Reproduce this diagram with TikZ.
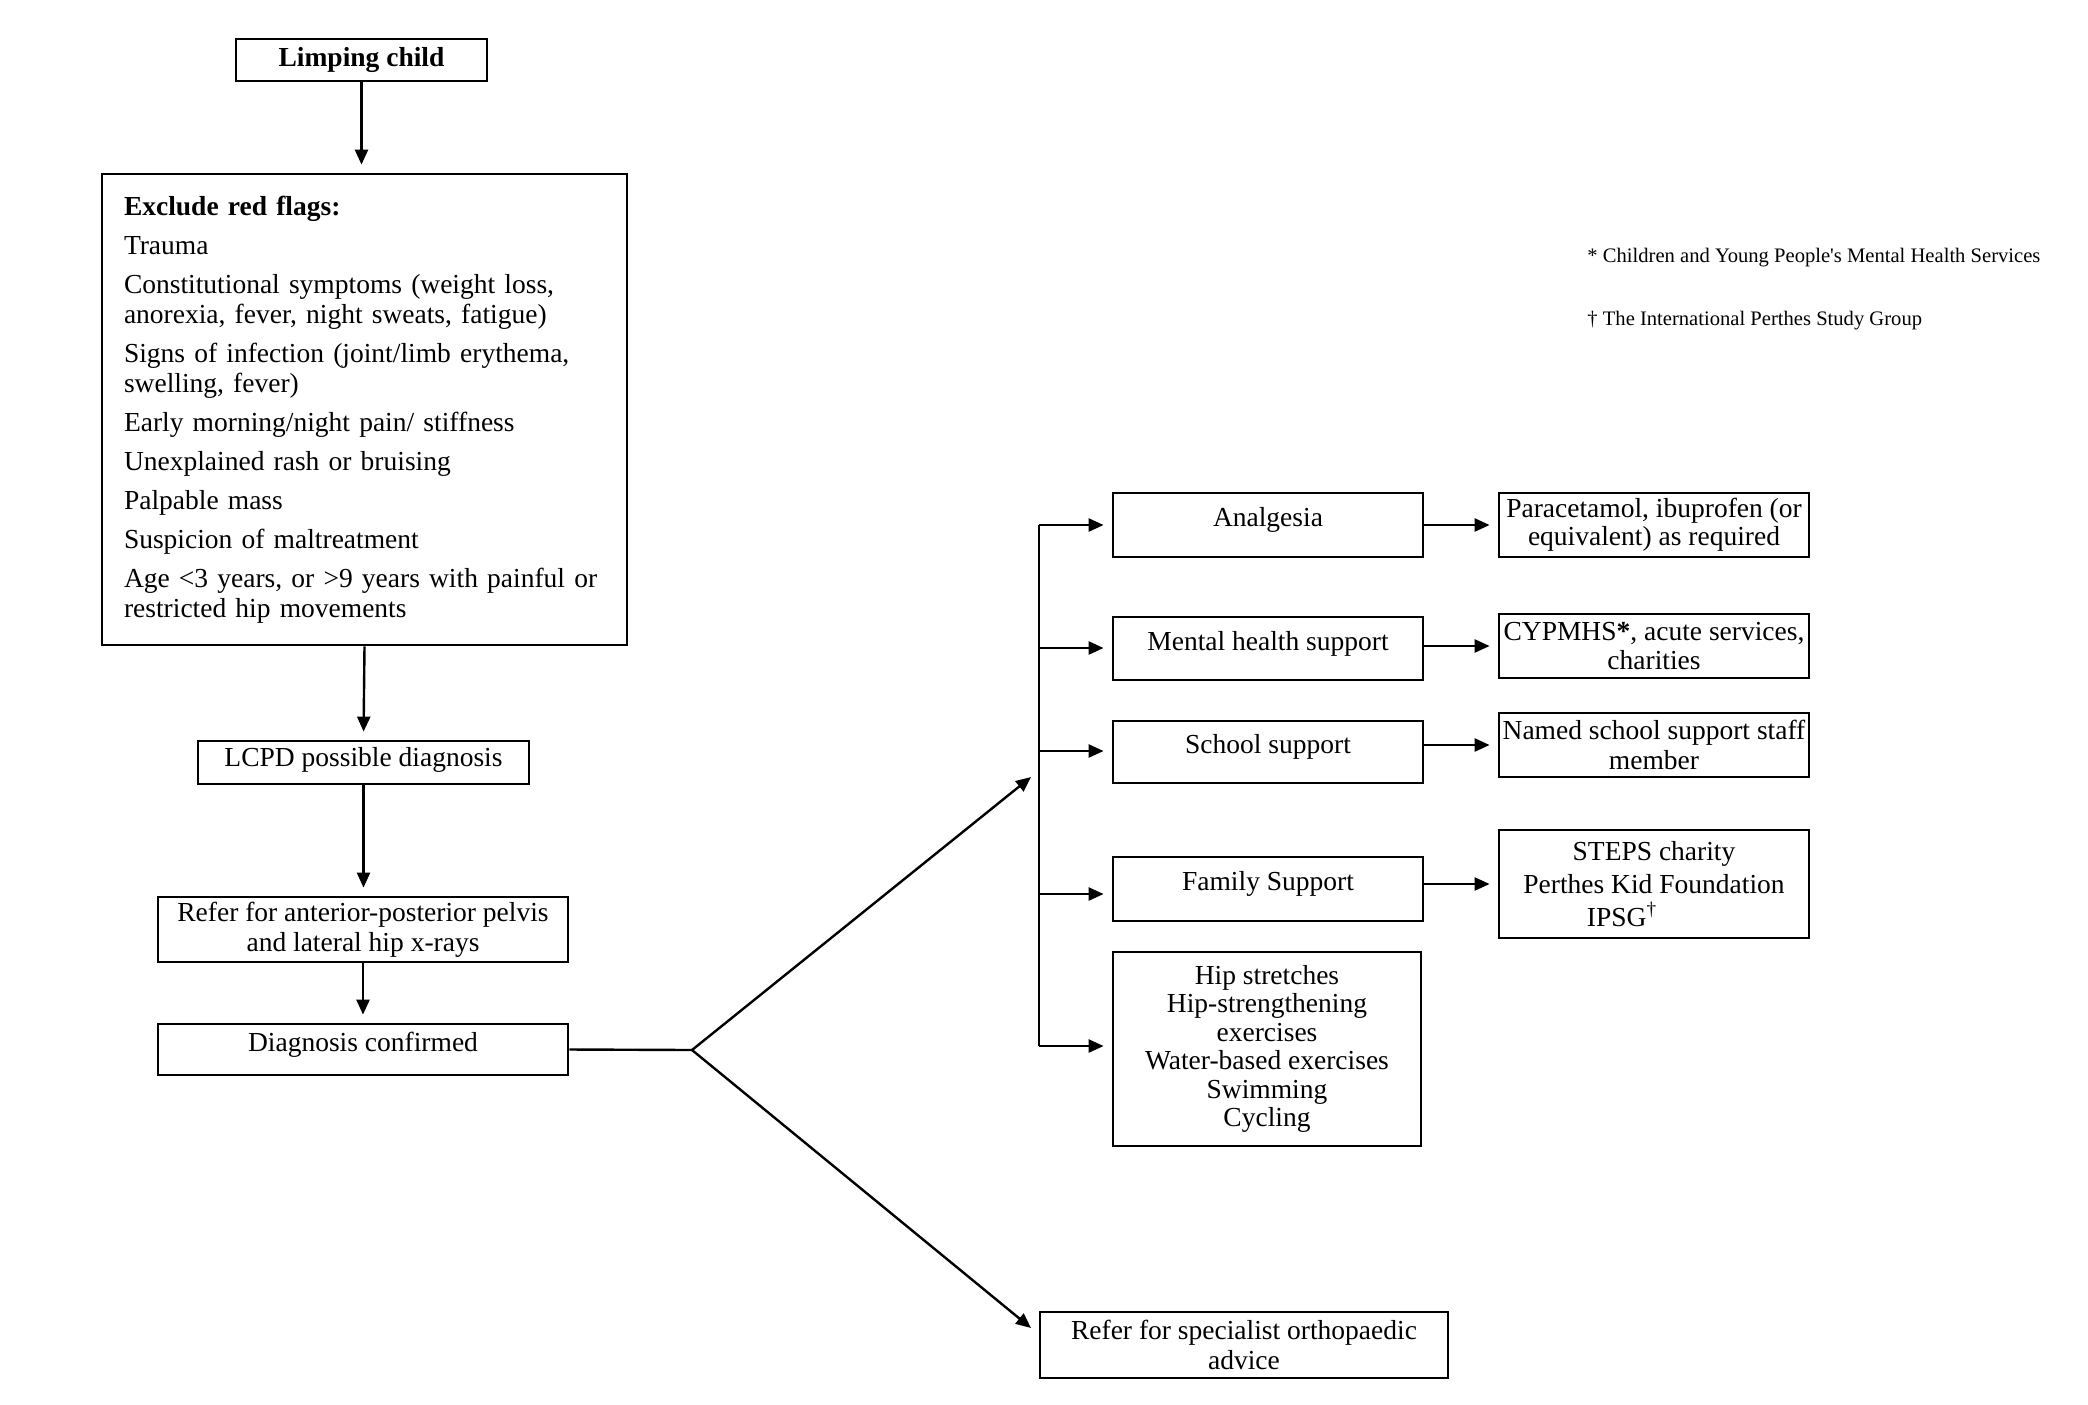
\documentclass[tikz,border=0pt]{standalone}
\usepackage{fontspec}
\setmainfont{Liberation Serif}
\usetikzlibrary{arrows.meta}
\begin{document}
\begin{tikzpicture}[x=0.5pt,y=-0.5pt,
  box/.style={draw, line width=1.4pt, inner sep=0pt, align=center, font=\fontsize{13.75}{15}\selectfont},
  one/.style={text height=9.5pt, text depth=8pt},
  half/.style={text height=9.5pt, text depth=5.5pt},
  arr/.style={line width=1.2pt, -{Triangle[length=7.5pt,width=6.5pt]}, shorten >=4pt},
  tiparr/.style={line width=1.2pt, -{Triangle[length=7.5pt,width=6.5pt]}},
  ln/.style={line width=1.2pt},
  note/.style={anchor=west, inner sep=0pt, font=\fontsize{10.3}{12}\selectfont}]
\useasboundingbox (0,0) rectangle (2088,1404);

% left column
\node[box, minimum width=125.5pt, minimum height=21pt] (limp) at (361.5,60) {\textbf{Limping child}};
\node[box, minimum width=262.5pt, minimum height=235.5pt, text width=240.5pt, align=left] (red) at (364.5,409.5)
 {\textbf{Exclude red flags:}\\[4.5pt]
  Trauma\\[4.5pt]
  Constitutional symptoms (weight loss,\\
  anorexia, fever, night sweats, fatigue)\\[4.5pt]
  Signs of infection (joint/limb erythema,\\
  swelling, fever)\\[4.5pt]
  Early morning/night pain/ stiffness\\[4.5pt]
  Unexplained rash or bruising\\[4.5pt]
  Palpable mass\\[4.5pt]
  Suspicion of maltreatment\\[4.5pt]
  Age <3 years, or >9 years with painful or\\
  restricted hip movements};
\node[box, half, minimum width=165.5pt, minimum height=21.5pt] (lcpd) at (363.5,762.5) {LCPD possible diagnosis};
\node[box, minimum width=205pt, minimum height=32.5pt] (xray) at (363,929.5) {Refer for anterior-posterior pelvis\\and lateral hip x-rays};
\node[box, one, minimum width=205pt, minimum height=25.5pt] (diag) at (363,1049.5) {Diagnosis confirmed};
\node[box, minimum width=204pt, minimum height=33pt] (spec) at (1244,1345) {Refer for specialist orthopaedic\\advice};

% middle column
\node[box, one, minimum width=155pt, minimum height=32pt] (analg) at (1268,525) {Analgesia};
\node[box, one, minimum width=155pt, minimum height=31.5pt] (mental) at (1268,648.5) {Mental health support};
\node[box, one, minimum width=155pt, minimum height=31pt] (school) at (1268,752) {School support};
\node[box, one, minimum width=155pt, minimum height=32pt] (family) at (1268,889) {Family Support};
\node[box, minimum width=154pt, minimum height=97pt, font=\fontsize{13.75}{14.25}\selectfont] (hip) at (1267,1049)
 {Hip stretches\\Hip-strengthening\\exercises\\Water-based exercises\\Swimming\\Cycling};

% right column
\node[box, minimum width=155pt, minimum height=32pt, font=\fontsize{13.75}{14}\selectfont] (para) at (1654,525) {Paracetamol, ibuprofen (or\\equivalent) as required};
\node[box, minimum width=155pt, minimum height=32pt, font=\fontsize{13.75}{14.5}\selectfont] (cyp) at (1654,646) {CYPMHS\textbf{*}, acute services,\\charities};
\node[box, minimum width=155pt, minimum height=32pt] (named) at (1654,745) {Named school support staff\\member};
\node[box, minimum width=155pt, minimum height=54pt, font=\fontsize{13.75}{16.5}\selectfont] (steps) at (1654,884) {STEPS charity\\Perthes Kid Foundation\\IPSG\textsuperscript{†}\hspace*{32pt}};

% footnotes
\node[note] (fn1) at (1587,258) {* Children and Young People\textquotesingle s Mental Health Services};
\node[note] (fn2) at (1587,321) {† The International Perthes Study Group};

% vertical connectors
\draw[arr] (limp.south) -- (red.north -| limp.south);
\draw[arr] (red.south) -- (lcpd.north);
\draw[arr] (lcpd.south) -- (xray.north -| lcpd.south);
\draw[arr] (xray.south) -- (diag.north);

% fork
\coordinate (fork) at (692,1050);
\coordinate (upTip) at (1031,777);
\coordinate (dnTip) at (1031,1328);
\draw[ln] (diag.east) -- (fork);
\draw[tiparr] (fork) -- (upTip);
\draw[tiparr] (fork) -- (dnTip);

% bus
\coordinate (b1) at (1039,525);
\coordinate (b2) at (1039,648);
\coordinate (b3) at (1039,751);
\coordinate (b4) at (1039,894);
\coordinate (b5) at (1039,1046);
\draw[ln] (b1) -- (b5);
\draw[arr] (b1) -- (analg.west |- b1);
\draw[arr] (b2) -- (mental.west |- b2);
\draw[arr] (b3) -- (school.west |- b3);
\draw[arr] (b4) -- (family.west |- b4);
\draw[arr] (b5) -- (hip.west |- b5);

% right connectors
\draw[arr] (analg.east) -- (para.west);
\draw[arr] (mental.east |- cyp.west) -- (cyp.west);
\draw[arr] (school.east |- named.west) -- (named.west);
\draw[arr] (family.east |- steps.west) -- (steps.west);
\end{tikzpicture}
\end{document}
